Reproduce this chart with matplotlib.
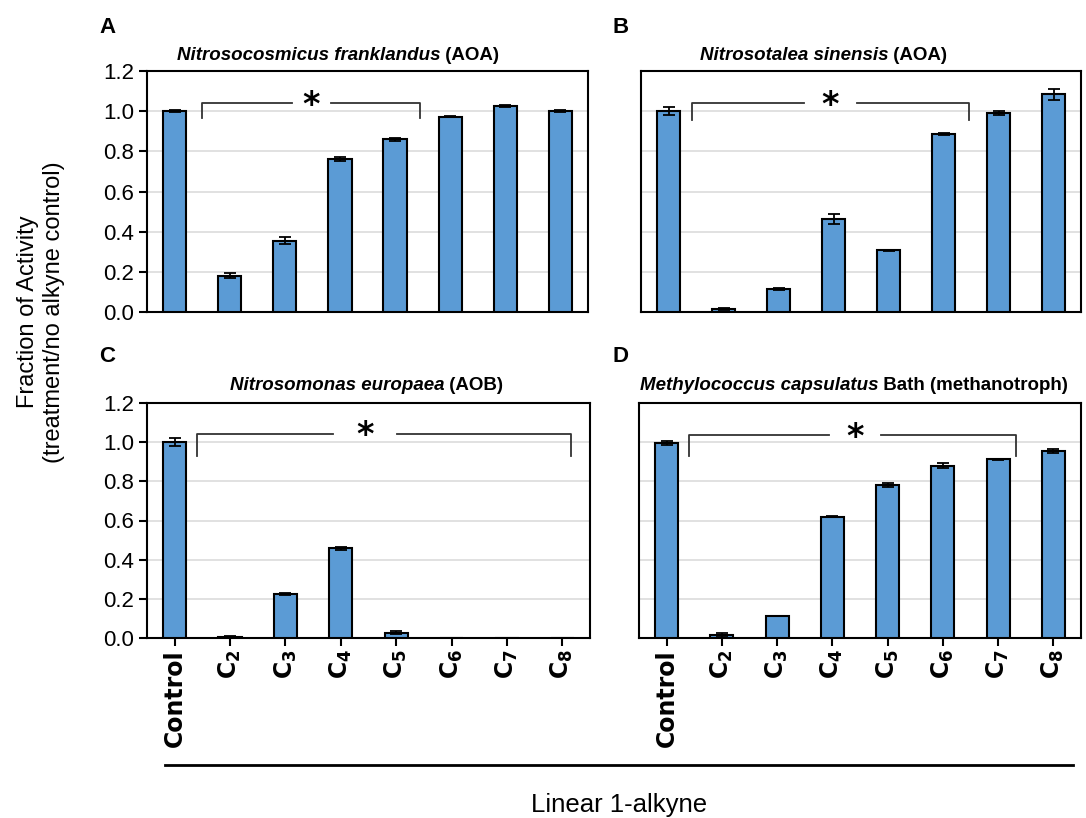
import matplotlib
matplotlib.use("Agg")
import matplotlib.pyplot as plt
from matplotlib.lines import Line2D

plt.rcParams['font.family'] = ['Liberation Sans', 'DejaVu Sans']

# categories
alkynes = ['Control', r'$\mathbf{C_2}$', r'$\mathbf{C_3}$', r'$\mathbf{C_4}$',
           r'$\mathbf{C_5}$', r'$\mathbf{C_6}$', r'$\mathbf{C_7}$', r'$\mathbf{C_8}$']

# fraction of activity, one list per organism
frac_a = [1.000, 0.181, 0.355, 0.764, 0.859, 0.972, 1.025, 1.000]
err_a = [0.006, 0.012, 0.018, 0.010, 0.006, 0.003, 0.006, 0.005]
frac_b = [1.000, 0.016, 0.115, 0.463, 0.307, 0.885, 0.990, 1.083]
err_b = [0.020, 0.006, 0.003, 0.025, 0.002, 0.004, 0.010, 0.025]
frac_c = [1.000, 0.007, 0.224, 0.458, 0.027, 0.0, 0.0, 0.0]
err_c = [0.022, 0.004, 0.005, 0.007, 0.007, 0.0, 0.0, 0.0]
frac_d = [0.997, 0.014, 0.112, 0.620, 0.783, 0.880, 0.912, 0.954]
err_d = [0.011, 0.010, 0.002, 0.004, 0.011, 0.014, 0.004, 0.010]

species = ['Nitrosocosmicus franklandus', 'Nitrosotalea sinensis',
           'Nitrosomonas europaea', 'Methylococcus capsulatus']
suffix = [' (AOA)', ' (AOA)', ' (AOB)', ' Bath (methanotroph)']
letters = ['A', 'B', 'C', 'D']

W, H = 1086, 818
fig = plt.figure(figsize=(W / 100, H / 100), dpi=100)

# axes boxes in pixels: left, top, right, bottom
boxes = [(147, 71, 588, 312), (641, 71, 1081, 312),
         (147, 403, 590, 638), (639, 403, 1081, 638)]
# title left edge and baseline (pixels)
title_pos = [(177, 60), (700, 60), (230, 390), (640, 390)]
letter_pos = [(99, 33), (613, 33), (99, 362), (613, 362)]
# bracket: x0, x1, top, leg bottom, star x, gap half width
brackets = [(0.50, 4.45, 1.040, 0.965, 2.48, 0.35),
            (0.43, 5.46, 1.040, 0.958, 2.94, 0.48),
            (0.40, 7.15, 1.044, 0.930, 3.43, 0.58),
            (0.40, 6.32, 1.036, 0.927, 3.41, 0.47)]

data = [(frac_a, err_a), (frac_b, err_b), (frac_c, err_c), (frac_d, err_d)]
blue = '#5B9BD5'

for i, ((vals, errs), box) in enumerate(zip(data, boxes)):
    l, t, r, b = box
    ax = fig.add_axes([l / W, 1 - b / H, (r - l) / W, (b - t) / H])
    x = range(len(vals))
    ax.bar(x, vals, width=0.42, color=blue, edgecolor='black', linewidth=1.5, zorder=3)
    ax.errorbar(x, vals, yerr=errs, fmt='none', ecolor='black', elinewidth=1.3,
                capsize=4, capthick=1.3, zorder=4)
    ax.set_xlim(-0.5, 7.5)
    ax.set_ylim(0, 1.2)
    ax.set_yticks([0, 0.2, 0.4, 0.6, 0.8, 1.0, 1.2])
    ax.yaxis.grid(True, color='#dcdcdc', linewidth=1.2, zorder=0)
    ax.set_axisbelow(True)
    for s in ax.spines.values():
        s.set_linewidth(1.5)
    if i % 2 == 0:
        ax.set_yticklabels(['0.0', '0.2', '0.4', '0.6', '0.8', '1.0', '1.2'], fontsize=16)
        ax.tick_params(axis='y', length=6, width=1.5, pad=3)
    else:
        ax.tick_params(axis='y', length=0, labelleft=False)
    if i >= 2:
        ax.set_xticks(list(x))
        ax.set_xticklabels(alkynes, rotation=90, fontsize=17, fontweight='bold',
                           family='DejaVu Sans')
        ax.tick_params(axis='x', length=6, width=1.5, pad=2)
    else:
        ax.set_xticks([])

    # significance bracket
    x0, x1, yt, yb, xs, gap = brackets[i]
    kw = dict(color='#333333', lw=1.3, clip_on=False, zorder=5)
    ax.plot([x0, x0, xs - gap], [yb, yt, yt], **kw)
    ax.plot([xs + gap, x1, x1], [yt, yt, yb], **kw)
    ax.text(xs, yt - 0.01, '*', ha='center', va='center', fontsize=24,
            fontweight='bold', family='DejaVu Sans')

    # title: italic species + upright rest
    tx, ty = title_pos[i]
    t1 = fig.text(tx / W, 1 - ty / H, species[i], fontsize=13.5, fontweight='bold',
                  style='italic', ha='left', va='baseline')
    ax.annotate(suffix[i], xy=(1, 0), xycoords=t1, fontsize=13.5, fontweight='bold',
                ha='left', va='bottom', annotation_clip=False)
    lx, ly = letter_pos[i]
    fig.text(lx / W, 1 - ly / H, letters[i], fontsize=16, fontweight='bold',
             ha='left', va='baseline')

fig.text(41 / W, 1 - 312 / H, 'Fraction of Activity\n(treatment/no alkyne control)',
         rotation=90, ha='center', va='center', fontsize=17, linespacing=1.2)
fig.add_artist(Line2D([165 / W, 1073 / W], [1 - 765 / H, 1 - 765 / H],
                      color='black', lw=2, transform=fig.transFigure))
fig.text(619 / W, 1 - 805 / H, 'Linear 1-alkyne', ha='center', va='center', fontsize=18.5)

fig.savefig('out.png', dpi=100)
